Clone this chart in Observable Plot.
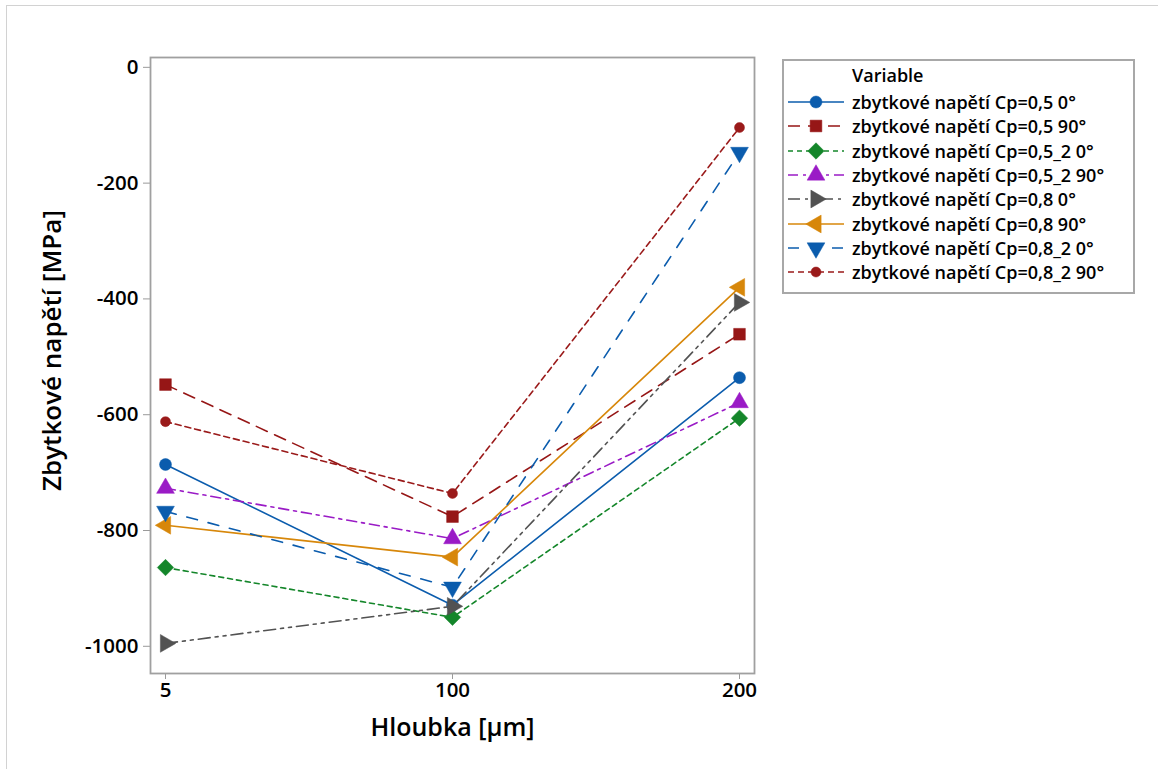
<!DOCTYPE html>
<html>
<head>
<meta charset="utf-8">
<script src="https://cdn.jsdelivr.net/npm/d3@7"></script>
<script src="https://cdn.jsdelivr.net/npm/@observablehq/plot@0.6"></script>
<style>
  html, body { margin: 0; padding: 0; background: #fff; }
  #page { position: relative; width: 1158px; height: 769px; overflow: hidden; font-family: "Open Sans", sans-serif; }
  #edge { position: absolute; left: 6px; top: 5px; width: 1160px; height: 780px; border-left: 1.5px solid #d2d2d2; border-top: 1.5px solid #d2d2d2; }
  #chart { position: absolute; left: 0; top: 0; }
  #legend { position: absolute; left: 782px; top: 59px; width: 349px; height: 231px; border: 2px solid #a8a8a8; background: #fff; }
  #legend .head { position: absolute; left: 68px; top: 2px; font-size: 18px; font-weight: 600; color: #000; }
  #legend .row { position: absolute; left: 0; height: 24px; display: flex; align-items: center; }
  #legend .row span { font-size: 18px; font-weight: 600; color: #000; margin-left: 6px; white-space: nowrap; }
</style>
</head>
<body>
<div id="page">
  <div id="edge"></div>
  <div id="chart"></div>
  <div id="legend"><div class="head">Variable</div></div>
</div>
<script>
// Measurement depths (categorical x axis)
const depths = ["5", "100", "200"];

// Series names
const seriesNames = [
  "zbytkové napětí Cp=0,5 0°",
  "zbytkové napětí Cp=0,5 90°",
  "zbytkové napětí Cp=0,5_2 0°",
  "zbytkové napětí Cp=0,5_2 90°",
  "zbytkové napětí Cp=0,8 0°",
  "zbytkové napětí Cp=0,8 90°",
  "zbytkové napětí Cp=0,8_2 0°",
  "zbytkové napětí Cp=0,8_2 90°"
];

// Residual stress [MPa] at depths 5, 100, 200 µm
const cp05_0    = [-686, -929, -536];
const cp05_90   = [-548, -776, -461];
const cp05_2_0  = [-864, -950, -606];
const cp05_2_90 = [-727, -814, -579];
const cp08_0    = [-995, -931, -406];
const cp08_90   = [-791, -846, -380];
const cp08_2_0  = [-767, -898, -147];
const cp08_2_90 = [-612, -736, -104];

const seriesValues = [cp05_0, cp05_90, cp05_2_0, cp05_2_90, cp08_0, cp08_90, cp08_2_0, cp08_2_90];

// y-axis tick values
const yTicks = [0, -200, -400, -600, -800, -1000];

// Styling per series
const colors  = ["#0b5cad", "#961616", "#14862a", "#9a1bc6", "#525252", "#d7870a", "#0b5cad", "#9a1a1a"];
const dashes  = [null, "12,8", "5,4", "10,5,3,5", "12,5,3,5,3,5", null, "11,11", "6,4"];
const symbols = ["circle", "square", "diamond2", "triangle", "triangle", "triangle", "triangle", "circle"];
const rotates = [0, 0, 0, 0, 90, -90, 180, 0];
const radii   = [6, 6.6, 7.4, 6.6, 6.6, 6.6, 6.6, 5];

const tables = seriesValues.map((vals, i) =>
  depths.map((d, j) => ({depth: d, value: vals[j], series: seriesNames[i]}))
);

const marks = [];
tables.forEach((rows, i) => {
  marks.push(Plot.line(rows, {
    x: "depth", y: "value",
    stroke: colors[i], strokeWidth: 1.6,
    strokeDasharray: dashes[i] || undefined
  }));
  marks.push(Plot.dot(rows, {
    x: "depth", y: "value",
    symbol: symbols[i], rotate: rotates[i], r: radii[i],
    fill: colors[i], stroke: colors[i], strokeWidth: 0.5
  }));
});

const chart = Plot.plot({
  width: 770,
  height: 769,
  marginLeft: 150,
  marginRight: 16,
  marginTop: 57,
  marginBottom: 96,
  style: {fontFamily: "Open Sans, sans-serif", fontWeight: 600, color: "#000", background: "transparent"},
  x: {type: "point", domain: depths, padding: 0, insetLeft: 14, insetRight: 15},
  y: {domain: [-1047, 17]},
  marks: [
    Plot.axisY({ticks: yTicks, tickSize: 7, tickPadding: 5, fontSize: 20.5, stroke: "#9a9a9a", label: null, tickFormat: d => d < 0 ? "-" + Math.abs(d) : String(d)}),
    Plot.axisX({tickSize: 6, tickPadding: 3, fontSize: 20.5, stroke: "#9a9a9a", label: null}),
    ...marks,
    Plot.frame({stroke: "#a0a0a0", strokeWidth: 1.8}),
    Plot.text(["Zbytkové napětí [MPa]"], {frameAnchor: "left", textAnchor: "middle", lineAnchor: "middle", dx: -98, dy: -15, rotate: -90, fontSize: 26, fontWeight: 600, fill: "#000"}),
    Plot.text(["Hloubka [µm]"], {frameAnchor: "bottom", textAnchor: "middle", lineAnchor: "middle", dy: 54, fontSize: 25, fontWeight: 600, fill: "#000"})
  ]
});
document.getElementById("chart").appendChild(chart);

// Legend: line sample with marker + series name
const legend = d3.select("#legend");
const symbolTypes = {circle: d3.symbolCircle, square: d3.symbolSquare, diamond2: d3.symbolDiamond2, triangle: d3.symbolTriangle};
seriesNames.forEach((name, i) => {
  const row = legend.append("div").attr("class", "row").style("top", (29 + i * 24.3) + "px");
  const svg = row.append("svg").attr("width", 62).attr("height", 24);
  svg.append("line")
    .attr("x1", 4).attr("x2", 60).attr("y1", 12).attr("y2", 12)
    .attr("stroke", colors[i]).attr("stroke-width", 1.6)
    .attr("stroke-dasharray", dashes[i]);
  svg.append("path")
    .attr("d", d3.symbol(symbolTypes[symbols[i]], radii[i] * radii[i] * Math.PI)())
    .attr("transform", `translate(32,12) rotate(${rotates[i]})`)
    .attr("fill", colors[i]).attr("stroke", colors[i]).attr("stroke-width", 0.5);
  row.append("span").text(name);
});
</script>
</body>
</html>
